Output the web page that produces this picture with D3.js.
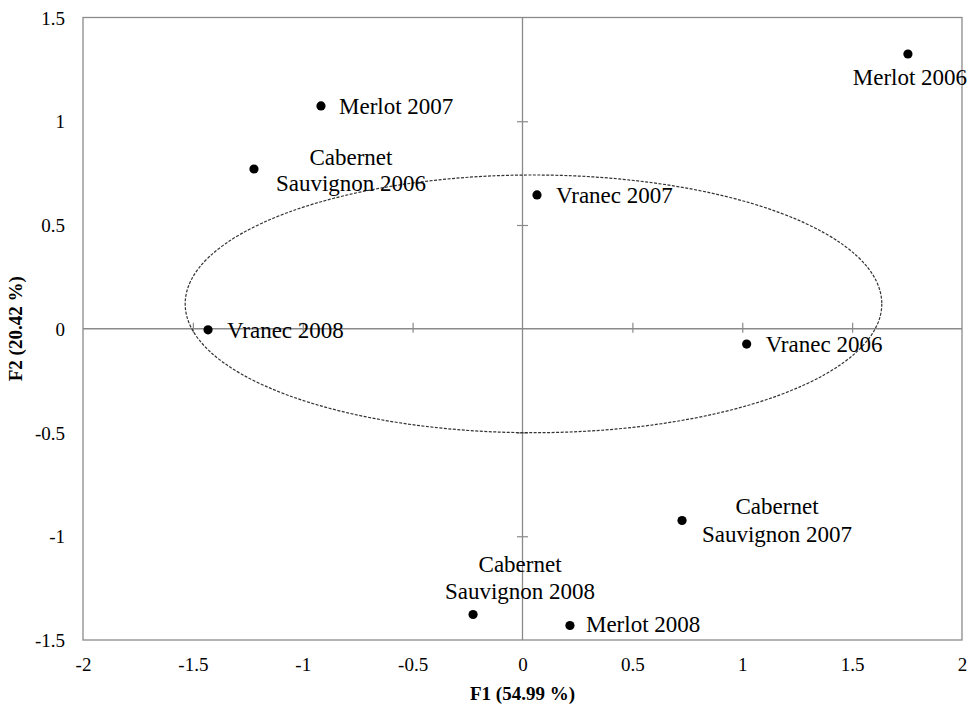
<!DOCTYPE html>
<html>
<head>
<meta charset="utf-8">
<script src="https://cdn.jsdelivr.net/npm/d3@7"></script>
<style>
  html, body { margin: 0; padding: 0; background: #fff; }
  svg { display: block; }
</style>
</head>
<body>
<svg id="chart" width="973" height="706"></svg>
<script>
// ---- data ----
const observations = ["Merlot 2006", "Merlot 2007", "Cabernet Sauvignon 2006", "Vranec 2007",
                      "Vranec 2008", "Vranec 2006", "Cabernet Sauvignon 2007",
                      "Cabernet Sauvignon 2008", "Merlot 2008"];
const f1Values = [1.754, -0.917, -1.222, 0.066, -1.431, 1.020, 0.726, -0.225, 0.216];
const f2Values = [1.324, 1.074, 0.770, 0.645, -0.005, -0.074, -0.924, -1.377, -1.430];
const xTicks = [-2, -1.5, -1, -0.5, 0, 0.5, 1, 1.5, 2];
const yTicks = [-1.5, -1, -0.5, 0, 0.5, 1, 1.5];
const ellipseCenter = [0.05, 0.12];   // F1, F2
const ellipseRadii = [1.585, 0.621];  // F1, F2
const xTitle = "F1 (54.99 %)";
const yTitle = "F2 (20.42 %)";

// ---- label layout (pixels, separate from data) ----
const labelLayout = [
  { anchor: "middle", dx: 2,  dy: [31] },
  { anchor: "start",  dx: 18, dy: [8] },
  { anchor: "middle", dx: 97, dy: [-4, 22] },
  { anchor: "start",  dx: 19, dy: [8] },
  { anchor: "start",  dx: 19, dy: [8] },
  { anchor: "start",  dx: 19, dy: [8] },
  { anchor: "middle", dx: 95, dy: [-6, 22] },
  { anchor: "middle", dx: 47, dy: [-42, -15] },
  { anchor: "start",  dx: 16, dy: [7] }
];

const svg = d3.select("#chart");
const pLeft = 83, pRight = 962, pTop = 17.5, pBottom = 640;
const x = d3.scaleLinear().domain([-2, 2]).range([pLeft, pRight]);
const y = d3.scaleLinear().domain([-1.5, 1.5]).range([pBottom, pTop]);
const serif = "'Liberation Serif', 'Times New Roman', serif";
const axisGray = "#8a8a8a";

// border
svg.append("rect")
  .attr("x", pLeft).attr("y", pTop)
  .attr("width", pRight - pLeft).attr("height", pBottom - pTop)
  .attr("fill", "none").attr("stroke", axisGray).attr("stroke-width", 1.3);

// zero axes
svg.append("line").attr("x1", pLeft).attr("x2", pRight)
  .attr("y1", y(0)).attr("y2", y(0))
  .attr("stroke", axisGray).attr("stroke-width", 1.3);
svg.append("line").attr("x1", x(0)).attr("x2", x(0))
  .attr("y1", pTop).attr("y2", pBottom)
  .attr("stroke", axisGray).attr("stroke-width", 1.3);

// cross ticks on zero axes
const xTickAxis = d3.axisBottom(x).tickValues(xTicks.filter(v => v > -2 && v < 2 && v !== 0))
  .tickSize(10).tickFormat("");
const gxt = svg.append("g").attr("transform", `translate(0,${y(0) - 6})`).call(xTickAxis);
gxt.select(".domain").remove();
gxt.selectAll(".tick line").attr("stroke", axisGray).attr("stroke-width", 1.2);

const yTickAxis = d3.axisRight(y).tickValues(yTicks.filter(v => v > -1.5 && v < 1.5 && v !== 0))
  .tickSize(11).tickFormat("");
const gyt = svg.append("g").attr("transform", `translate(${x(0) - 5.5},0)`).call(yTickAxis);
gyt.select(".domain").remove();
gyt.selectAll(".tick line").attr("stroke", axisGray).attr("stroke-width", 1.2);

// tick labels
const xLab = d3.axisBottom(x).tickValues(xTicks).tickSize(0).tickPadding(0)
  .tickFormat(d => String(d));
const gx = svg.append("g").attr("transform", `translate(0,${pBottom})`).call(xLab);
gx.select(".domain").remove();
gx.selectAll("text").attr("font-family", serif).attr("font-size", 19)
  .attr("fill", "#000").attr("y", 31).attr("dy", 0);

const yLab = d3.axisLeft(y).tickValues(yTicks).tickSize(0).tickPadding(0)
  .tickFormat(d => String(d));
const gy = svg.append("g").attr("transform", `translate(${pLeft},0)`).call(yLab);
gy.select(".domain").remove();
gy.selectAll("text").attr("font-family", serif).attr("font-size", 19)
  .attr("fill", "#000").attr("x", -18).attr("dy", "0.35em");

// axis titles
svg.append("text").attr("x", (pLeft + pRight) / 2).attr("y", 700)
  .attr("text-anchor", "middle").attr("font-family", serif)
  .attr("font-weight", "bold").attr("font-size", 19).text(xTitle);
svg.append("text")
  .attr("transform", `translate(22,${(pTop + pBottom) / 2}) rotate(-90)`)
  .attr("text-anchor", "middle").attr("font-family", serif)
  .attr("font-weight", "bold").attr("font-size", 19).text(yTitle);

// confidence ellipse
svg.append("ellipse")
  .attr("cx", x(ellipseCenter[0])).attr("cy", y(ellipseCenter[1]))
  .attr("rx", x(ellipseCenter[0] + ellipseRadii[0]) - x(ellipseCenter[0]))
  .attr("ry", y(ellipseCenter[1] - ellipseRadii[1]) - y(ellipseCenter[1]))
  .attr("fill", "none").attr("stroke", "#333").attr("stroke-width", 1.2)
  .attr("stroke-dasharray", "3,1.5");

// points
const pts = observations.map((n, i) => ({ name: n, f1: f1Values[i], f2: f2Values[i], lay: labelLayout[i] }));
svg.append("g").selectAll("circle").data(pts).join("circle")
  .attr("cx", d => x(d.f1)).attr("cy", d => y(d.f2))
  .attr("r", 4.6).attr("fill", "#000");

// labels
const lg = svg.append("g").attr("font-family", serif).attr("font-size", 23).attr("fill", "#000");
pts.forEach(d => {
  const lines = d.lay.dy.length === 2
    ? [d.name.split(" ")[0], d.name.split(" ").slice(1).join(" ")]
    : [d.name];
  lines.forEach((ln, j) => {
    lg.append("text")
      .attr("x", x(d.f1) + d.lay.dx)
      .attr("y", y(d.f2) + d.lay.dy[j])
      .attr("text-anchor", d.lay.anchor)
      .text(ln);
  });
});
</script>
</body>
</html>
